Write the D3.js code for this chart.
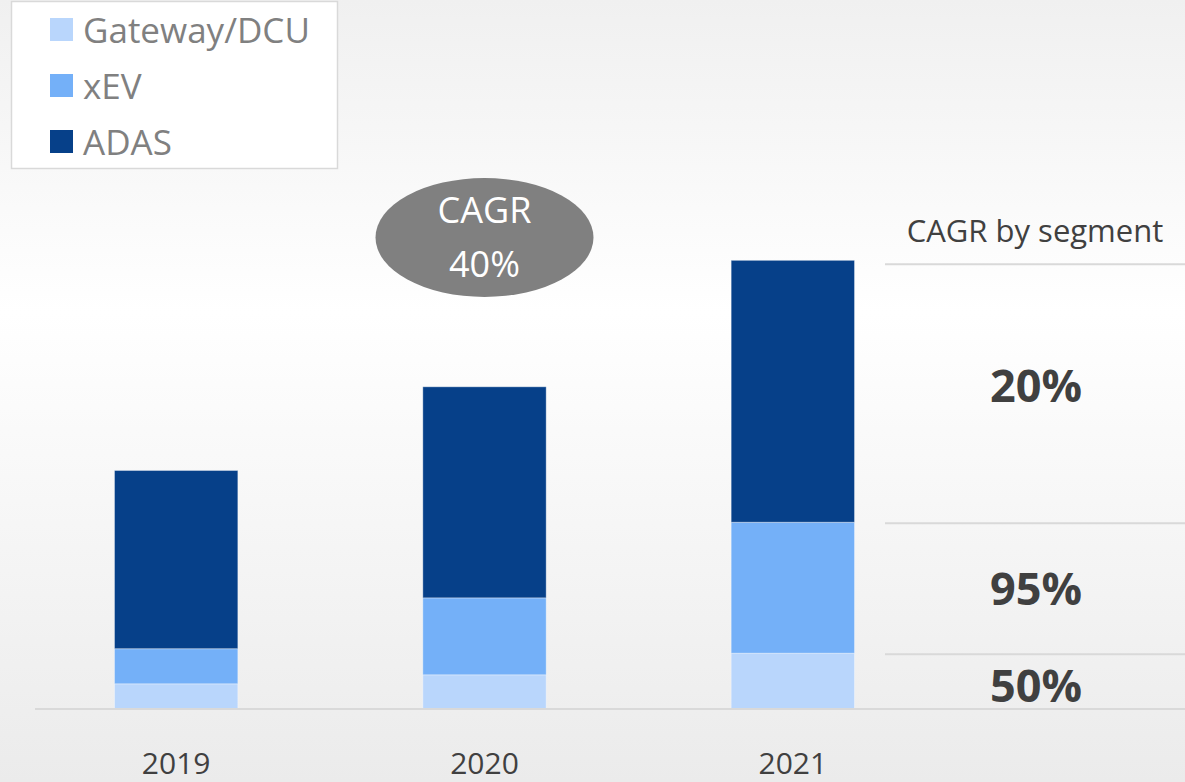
<!DOCTYPE html>
<html>
<head>
<meta charset="utf-8">
<script src="https://cdn.jsdelivr.net/npm/d3@7"></script>
<style>
  body { margin: 0; overflow: hidden; }
  text { font-family: "Open Sans", "Noto Sans", sans-serif; }
</style>
</head>
<body>
<script>
// data (arbitrary units)
var years = ["2019", "2020", "2021"];
var segments = ["Gateway/DCU", "xEV", "ADAS"];
var gateway = [5.6, 7.6, 12.4];
var xev = [7.8, 17.1, 29.1];
var adas = [39.6, 46.9, 58.2];
var segmentCagr = ["50%", "95%", "20%"];
var totalCagr = "40%";

var colors = ["#b9d6fc", "#74b0f8", "#064089"];

var width = 1185, height = 782;

var svg = d3.select("body").append("svg")
    .attr("width", width)
    .attr("height", height);

// background gradient
var defs = svg.append("defs");
var grad = defs.append("linearGradient")
    .attr("id", "bg")
    .attr("x1", 0).attr("y1", 0).attr("x2", 0).attr("y2", 1);
grad.append("stop").attr("offset", "0%").attr("stop-color", "#f0f0f0");
grad.append("stop").attr("offset", "40%").attr("stop-color", "#ffffff");
grad.append("stop").attr("offset", "100%").attr("stop-color", "#ebebeb");

svg.append("rect")
    .attr("width", width)
    .attr("height", height)
    .attr("fill", "url(#bg)");

var table = years.map(function (y, i) {
    return { year: y, "Gateway/DCU": gateway[i], xEV: xev[i], ADAS: adas[i] };
});

var stack = d3.stack().keys(segments);
var series = stack(table);

var x = d3.scaleBand()
    .domain(years)
    .range([22, 947])
    .paddingInner(0.6)
    .paddingOuter(0.3);

var y = d3.scaleLinear()
    .domain([0, 100])
    .range([709, 259]);

// bars
svg.append("g")
    .selectAll("g")
    .data(series)
    .join("g")
    .attr("fill", function (d, i) { return colors[i]; })
    .selectAll("rect")
    .data(function (d) { return d; })
    .join("rect")
    .attr("x", function (d) { return x(d.data.year); })
    .attr("y", function (d) { return y(d[1]); })
    .attr("width", x.bandwidth())
    .attr("height", function (d) { return y(d[0]) - y(d[1]); })
    .attr("stroke", "rgba(255,255,255,0.35)")
    .attr("stroke-width", 1);

// baseline
svg.append("line")
    .attr("x1", 35).attr("x2", width)
    .attr("y1", y(0)).attr("y2", y(0))
    .attr("stroke", "#d9d9d9")
    .attr("stroke-width", 2);

// year labels
svg.append("g")
    .selectAll("text")
    .data(years)
    .join("text")
    .attr("x", function (d) { return x(d) + x.bandwidth() / 2; })
    .attr("y", 774)
    .attr("text-anchor", "middle")
    .attr("font-size", "30px")
    .attr("fill", "#404040")
    .text(function (d) { return d; });

// CAGR by segment, based on the 2021 stack
var last = series.map(function (s) { return s[s.length - 1]; });
var dividers = [last[0][1], last[1][1], last[2][1]];
var nudge = [21, 17, 11]; // label baseline offset from segment middle

svg.append("g")
    .selectAll("line")
    .data(dividers)
    .join("line")
    .attr("x1", 885).attr("x2", width)
    .attr("y1", function (d, i) { return y(d) + (i === 2 ? 4 : 1); })
    .attr("y2", function (d, i) { return y(d) + (i === 2 ? 4 : 1); })
    .attr("stroke", "#d9d9d9")
    .attr("stroke-width", 2);

svg.append("g")
    .selectAll("text")
    .data(last)
    .join("text")
    .attr("x", 1036)
    .attr("y", function (d, i) { return (y(d[0]) + y(d[1])) / 2 + nudge[i]; })
    .attr("text-anchor", "middle")
    .attr("font-size", "45px")
    .attr("font-weight", "bold")
    .attr("fill", "#404040")
    .text(function (d, i) { return segmentCagr[i]; });

svg.append("text")
    .attr("x", 1035)
    .attr("y", 242)
    .attr("text-anchor", "middle")
    .attr("font-size", "31px")
    .attr("fill", "#404040")
    .text("CAGR by segment");

// overall CAGR bubble
var cx = x("2020") + x.bandwidth() / 2;
svg.append("ellipse")
    .attr("cx", cx).attr("cy", 237.5)
    .attr("rx", 109).attr("ry", 59.5)
    .attr("fill", "#808080");

svg.append("text")
    .attr("x", cx).attr("y", 223)
    .attr("text-anchor", "middle")
    .attr("font-size", "36px")
    .attr("fill", "#ffffff")
    .text("CAGR");

svg.append("text")
    .attr("x", cx).attr("y", 277)
    .attr("text-anchor", "middle")
    .attr("font-size", "36px")
    .attr("fill", "#ffffff")
    .text(totalCagr);

// legend
var legend = svg.append("g");
legend.append("rect")
    .attr("x", 11.5).attr("y", 1.5)
    .attr("width", 326).attr("height", 167)
    .attr("fill", "#ffffff")
    .attr("stroke", "#d9d9d9")
    .attr("stroke-width", 1.5);

var items = legend.selectAll("g")
    .data(segments)
    .join("g")
    .attr("transform", function (d, i) { return "translate(50," + (18 + i * 56) + ")"; });

items.append("rect")
    .attr("width", 23).attr("height", 23)
    .attr("fill", function (d, i) { return colors[i]; });

items.append("text")
    .attr("x", 33)
    .attr("y", 25)
    .attr("font-size", "35px")
    .attr("fill", "#808080")
    .text(function (d) { return d; });
</script>
</body>
</html>
